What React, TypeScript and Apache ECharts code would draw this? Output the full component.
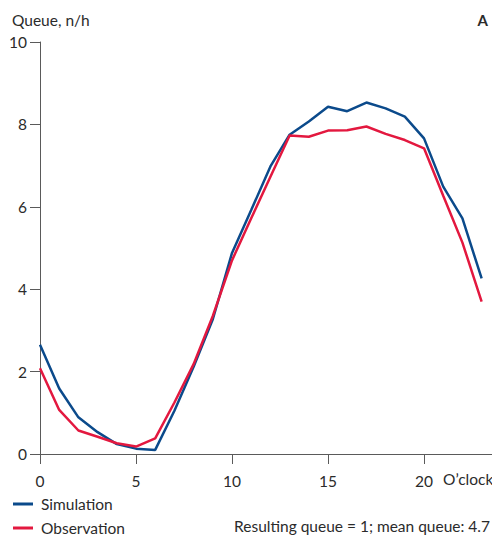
import React, { useEffect, useRef } from "react";
import * as echarts from "echarts";

const hours = [0,1,2,3,4,5,6,7,8,9,10,11,12,13,14,15,16,17,18,19,20,21,22,23];
const simulation = [2.65,1.59,0.89,0.53,0.24,0.13,0.1,1.05,2.12,3.27,4.88,5.92,6.98,7.75,8.07,8.43,8.32,8.53,8.39,8.19,7.66,6.49,5.72,4.26];
const observation = [2.08,1.07,0.57,0.42,0.26,0.18,0.38,1.25,2.18,3.35,4.7,5.72,6.73,7.73,7.7,7.85,7.86,7.95,7.77,7.62,7.42,6.27,5.13,3.7];
const yTicks = [0, 2, 4, 6, 8, 10];
const xTicks = [0, 5, 10, 15, 20];

const FONT = "Lato, 'Open Sans', sans-serif";
const TXT = "#2b2b2b";
const AX = "#5a5a5a";

export default function App() {
  const ref = useRef<HTMLDivElement>(null);
  useEffect(() => {
    if (!ref.current) return;
    const chart = echarts.init(ref.current, undefined, { renderer: "svg" });
    chart.setOption({
      animation: false,
      textStyle: { fontFamily: FONT },
      grid: { left: 40, top: 42, right: 0, bottom: 85, containLabel: false, outerBoundsMode: "none" },
      xAxis: {
        type: "value",
        min: 0,
        max: 23.54,
        interval: 5,
        splitLine: { show: false },
        axisLine: { show: true, lineStyle: { color: AX, width: 1 } },
        axisTick: { show: true, length: 10, lineStyle: { color: AX }, customValues: xTicks },
        axisLabel: { color: TXT, fontSize: 15.5, fontFamily: FONT, margin: 19, customValues: xTicks },
      },
      yAxis: {
        type: "value",
        min: 0,
        max: 10,
        interval: 2,
        splitLine: { show: false },
        axisLine: { show: true, lineStyle: { color: AX, width: 1 } },
        axisTick: { show: true, length: 10, lineStyle: { color: AX }, customValues: yTicks },
        axisLabel: { color: TXT, fontSize: 15.5, fontFamily: FONT, margin: 13, customValues: yTicks },
      },
      legend: {
        orient: "vertical",
        left: 13,
        top: 495,
        padding: 0,
        itemWidth: 20,
        itemHeight: 3,
        itemGap: 6,
        icon: "rect",
        textStyle: { color: TXT, fontSize: 15.5, fontFamily: FONT, lineHeight: 18, padding: [0, 0, 0, 3] },
        data: ["Simulation", "Observation"],
      },
      series: [
        {
          name: "Simulation",
          type: "line",
          symbol: "none",
          data: hours.map((h, i) => [h, simulation[i]]),
          lineStyle: { color: "#0B4A8B", width: 2.5 },
          itemStyle: { color: "#0B4A8B" },
          z: 2,
        },
        {
          name: "Observation",
          type: "line",
          symbol: "none",
          data: hours.map((h, i) => [h, observation[i]]),
          lineStyle: { color: "#E3183F", width: 2.5 },
          itemStyle: { color: "#E3183F" },
          z: 3,
        },
      ],
      graphic: [
        { type: "text", left: 12, top: 12, style: { text: "Queue, n/h", fill: TXT, font: `15.5px ${FONT}` } },
        { type: "text", right: 4, top: 12, style: { text: "A", fill: TXT, font: `bold 15px ${FONT}` } },
        { type: "text", left: 443, top: 471, style: { text: "O\u2019clock", fill: TXT, font: `15.5px ${FONT}` } },
        { type: "text", right: 2, top: 518, style: { text: "Resulting queue = 1; mean queue: 4.7", fill: TXT, font: `15.5px ${FONT}` } },
      ],
    });
    return () => chart.dispose();
  }, []);
  return <div ref={ref} style={{ width: 492, height: 539, position: "absolute", left: 0, top: 0 }} />;
}
